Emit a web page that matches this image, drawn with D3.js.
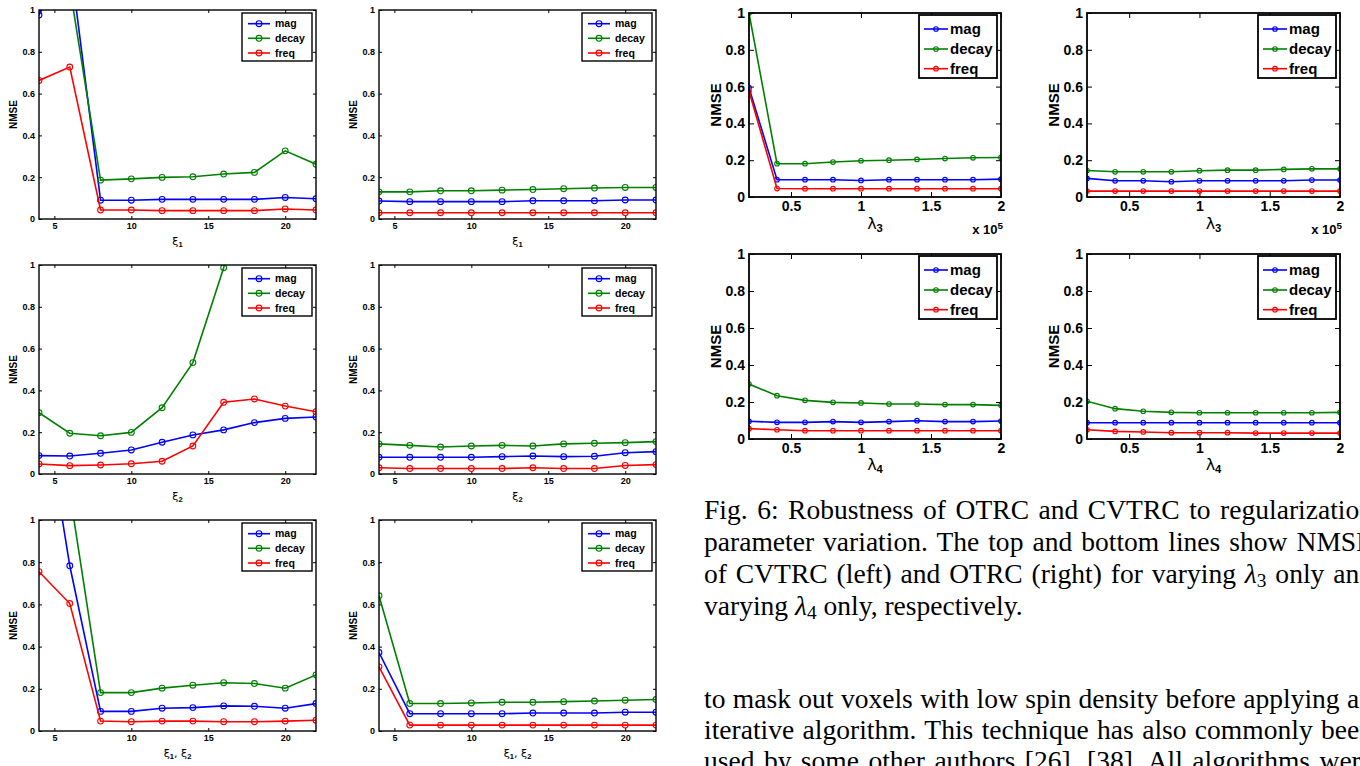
<!DOCTYPE html>
<html lang="en">
<head>
<meta charset="UTF-8" />
<title>NMSE robustness</title>
<style>
	body { margin: 0; background: #fff; }
</style>
</head>
<body>
<svg width="1360" height="766" id="svg" font-family="Liberation Sans, Arial, sans-serif"></svg>
<script src="https://cdn.jsdelivr.net/npm/d3@7/dist/d3.min.js"></script>
<script>
const xiSteps = [4, 6, 8, 10, 12, 14, 16, 18, 20, 22]
const lambdaSteps = [0.2, 0.4, 0.6, 0.8, 1.0, 1.2, 1.4, 1.6, 1.8, 2.0]
const seriesNames = ["mag", "decay", "freq"]
const yTicks = [0, 0.2, 0.4, 0.6, 0.8, 1]
const xiTicks = [5, 10, 15, 20]
const lambdaTicks = [0.5, 1, 1.5, 2]

// varying xi1
const xi1LeftMag = [0.976, 1.25, 0.09, 0.09, 0.094, 0.094, 0.094, 0.094, 0.103, 0.097]
const xi1LeftDecay = [1.5, 1.11, 0.186, 0.192, 0.199, 0.202, 0.215, 0.223, 0.326, 0.262]
const xi1LeftFreq = [0.663, 0.727, 0.043, 0.043, 0.04, 0.04, 0.04, 0.04, 0.048, 0.043]
const xi1RightMag = [0.086, 0.083, 0.083, 0.083, 0.083, 0.087, 0.087, 0.087, 0.091, 0.091]
const xi1RightDecay = [0.13, 0.13, 0.135, 0.135, 0.138, 0.141, 0.145, 0.148, 0.151, 0.151]
const xi1RightFreq = [0.03, 0.03, 0.03, 0.03, 0.03, 0.03, 0.03, 0.03, 0.03, 0.03]

// varying xi2
const xi2LeftMag = [0.088, 0.086, 0.099, 0.115, 0.152, 0.187, 0.211, 0.246, 0.266, 0.273]
const xi2LeftDecay = [0.293, 0.195, 0.183, 0.199, 0.317, 0.533, 0.987, 1.6, 2.1, 2.5]
const xi2LeftFreq = [0.048, 0.04, 0.043, 0.049, 0.061, 0.134, 0.343, 0.359, 0.325, 0.298]
const xi2RightMag = [0.08, 0.08, 0.08, 0.08, 0.083, 0.086, 0.083, 0.085, 0.102, 0.107]
const xi2RightDecay = [0.144, 0.137, 0.129, 0.134, 0.137, 0.134, 0.144, 0.147, 0.15, 0.155]
const xi2RightFreq = [0.03, 0.026, 0.026, 0.026, 0.026, 0.03, 0.026, 0.026, 0.041, 0.045]

// varying xi1 and xi2 together
const bothLeftMag = [1.69, 0.783, 0.093, 0.093, 0.108, 0.111, 0.119, 0.117, 0.108, 0.13]
const bothLeftDecay = [2.2, 1.13, 0.182, 0.182, 0.203, 0.217, 0.229, 0.225, 0.203, 0.266]
const bothLeftFreq = [0.755, 0.604, 0.047, 0.044, 0.047, 0.047, 0.044, 0.044, 0.047, 0.051]
const bothRightMag = [0.372, 0.082, 0.082, 0.082, 0.082, 0.085, 0.085, 0.085, 0.089, 0.089]
const bothRightDecay = [0.641, 0.13, 0.13, 0.133, 0.136, 0.136, 0.139, 0.142, 0.146, 0.149]
const bothRightFreq = [0.304, 0.028, 0.028, 0.028, 0.028, 0.028, 0.028, 0.028, 0.028, 0.028]

// lambda3 (x 1e5): CVTRC / OTRC
const lam3CvMag = [0.594, 0.094, 0.094, 0.094, 0.09, 0.094, 0.094, 0.094, 0.094, 0.097]
const lam3CvDecay = [1.0, 0.181, 0.181, 0.19, 0.197, 0.2, 0.204, 0.209, 0.213, 0.215]
const lam3CvFreq = [0.576, 0.046, 0.045, 0.045, 0.045, 0.045, 0.045, 0.045, 0.045, 0.045]
const lam3OtMag = [0.101, 0.088, 0.088, 0.083, 0.088, 0.088, 0.088, 0.088, 0.092, 0.092]
const lam3OtDecay = [0.144, 0.137, 0.137, 0.137, 0.143, 0.146, 0.146, 0.15, 0.153, 0.153]
const lam3OtFreq = [0.032, 0.032, 0.032, 0.032, 0.032, 0.032, 0.032, 0.032, 0.032, 0.032]

// lambda4: CVTRC / OTRC
const lam4CvMag = [0.096, 0.09, 0.09, 0.094, 0.09, 0.094, 0.099, 0.094, 0.094, 0.097]
const lam4CvDecay = [0.297, 0.234, 0.209, 0.198, 0.195, 0.189, 0.189, 0.186, 0.186, 0.182]
const lam4CvFreq = [0.056, 0.05, 0.045, 0.045, 0.045, 0.045, 0.045, 0.045, 0.045, 0.045]
const lam4OtMag = [0.088, 0.088, 0.088, 0.088, 0.088, 0.088, 0.088, 0.088, 0.088, 0.088]
const lam4OtDecay = [0.204, 0.164, 0.15, 0.144, 0.142, 0.142, 0.142, 0.142, 0.142, 0.144]
const lam4OtFreq = [0.05, 0.041, 0.038, 0.034, 0.034, 0.034, 0.032, 0.032, 0.032, 0.032]

const captionLines = [
	["Fig. 6: Robustness of OTRC and CVTRC to regularization", true],
	["parameter variation. The top and bottom lines show NMSE", true],
	["of CVTRC (left) and OTRC (right) for varying λ|3| only and", true],
	["varying λ|4| only, respectively.", false],
]
const bodyLines = [
	"to mask out voxels with low spin density before applying an",
	"iterative algorithm. This technique has also commonly been",
	"used by some other authors [26], [38]. All algorithms were",
]

const svg = d3.select("#svg")
const colors = ["#0000ff", "#008000", "#ff0000"]

const small = { tick: 9, tickLen: 3, pad: 4, legendFont: 10.5, labelFont: 10, stroke: 1.6, r: 2.9, box: 1.4,
	legend: { w: 70, h: 48, dx: 4, dy: 3, rows: [10.7, 25.3, 40], l0: 6, l1: 28, tx: 33 } }
const big = { tick: 14, tickLen: 5, pad: 4, legendFont: 15, labelFont: 15, stroke: 1.6, r: 2.3, box: 1.8,
	legend: { w: 78, h: 63, dx: 4, dy: 2, rows: [14, 34, 53.7], l0: 5, l1: 29, tx: 31 } }

const panels = [
	{ l: 39, r: 316, t: 10, b: 219, xs: xiSteps, ticks: xiTicks, data: [xi1LeftMag, xi1LeftDecay, xi1LeftFreq], lab: ["ξ", "1"], st: small, ylx: 13, xly: 245 },
	{ l: 379, r: 656, t: 10, b: 219, xs: xiSteps, ticks: xiTicks, data: [xi1RightMag, xi1RightDecay, xi1RightFreq], lab: ["ξ", "1"], st: small, ylx: 353, xly: 245 },
	{ l: 39, r: 316, t: 265, b: 474, xs: xiSteps, ticks: xiTicks, data: [xi2LeftMag, xi2LeftDecay, xi2LeftFreq], lab: ["ξ", "2"], st: small, ylx: 13, xly: 500 },
	{ l: 379, r: 656, t: 265, b: 474, xs: xiSteps, ticks: xiTicks, data: [xi2RightMag, xi2RightDecay, xi2RightFreq], lab: ["ξ", "2"], st: small, ylx: 353, xly: 500 },
	{ l: 39, r: 316, t: 520, b: 731, xs: xiSteps, ticks: xiTicks, data: [bothLeftMag, bothLeftDecay, bothLeftFreq], lab: ["ξ", "1", ", ξ", "2"], st: small, ylx: 13, xly: 757 },
	{ l: 379, r: 656, t: 520, b: 731, xs: xiSteps, ticks: xiTicks, data: [bothRightMag, bothRightDecay, bothRightFreq], lab: ["ξ", "1", ", ξ", "2"], st: small, ylx: 353, xly: 757 },
	{ l: 749, r: 1001, t: 13, b: 197, xs: lambdaSteps, ticks: lambdaTicks, data: [lam3CvMag, lam3CvDecay, lam3CvFreq], lab: ["λ", "3"], st: big, ylx: 716, xly: 229, exp: true },
	{ l: 1087, r: 1340, t: 13, b: 197, xs: lambdaSteps, ticks: lambdaTicks, data: [lam3OtMag, lam3OtDecay, lam3OtFreq], lab: ["λ", "3"], st: big, ylx: 1054, xly: 229, exp: true },
	{ l: 749, r: 1001, t: 254, b: 439, xs: lambdaSteps, ticks: lambdaTicks, data: [lam4CvMag, lam4CvDecay, lam4CvFreq], lab: ["λ", "4"], st: big, ylx: 716, xly: 470 },
	{ l: 1087, r: 1340, t: 254, b: 439, xs: lambdaSteps, ticks: lambdaTicks, data: [lam4OtMag, lam4OtDecay, lam4OtFreq], lab: ["λ", "4"], st: big, ylx: 1054, xly: 470 },
]

panels.forEach((p, pi) => {
	const st = p.st
	const x = d3.scaleLinear().domain(d3.extent(p.xs)).range([p.l, p.r])
	const y = d3.scaleLinear().domain([0, 1]).range([p.b, p.t])
	const g = svg.append("g")

	const clipId = "clip" + pi
	g.append("clipPath").attr("id", clipId)
		.append("rect").attr("x", p.l).attr("y", p.t).attr("width", p.r - p.l).attr("height", p.b - p.t)

	const fmt = (d) => String(d)
	const axisStyle = (sel) => {
		sel.select(".domain").remove()
		sel.selectAll("line").attr("stroke", "#000").attr("stroke-width", 1)
		sel.selectAll("text").attr("font-size", st.tick).attr("font-weight", "bold")
			.attr("fill", "#000").attr("font-family", "Liberation Sans, Arial, sans-serif")
	}
	g.append("g").attr("transform", `translate(0,${p.b})`)
		.call(d3.axisBottom(x).tickValues(p.ticks).tickFormat(fmt).tickSize(-st.tickLen).tickPadding(st.pad))
		.call(axisStyle)
	g.append("g").attr("transform", `translate(0,${p.t})`)
		.call(d3.axisTop(x).tickValues(p.ticks).tickFormat("").tickSize(-st.tickLen))
		.call(axisStyle)
	g.append("g").attr("transform", `translate(${p.l},0)`)
		.call(d3.axisLeft(y).tickValues(yTicks).tickFormat(fmt).tickSize(-st.tickLen).tickPadding(st.pad))
		.call(axisStyle)
	g.append("g").attr("transform", `translate(${p.r},0)`)
		.call(d3.axisRight(y).tickValues(yTicks).tickFormat("").tickSize(-st.tickLen))
		.call(axisStyle)

	const plot = g.append("g").attr("clip-path", `url(#${clipId})`)
	const line = d3.line().x((d) => x(d[0])).y((d) => y(d[1]))
	p.data.forEach((vals, si) => {
		const pts = p.xs.map((xv, i) => [xv, vals[i]])
		plot.append("path").attr("d", line(pts)).attr("fill", "none")
			.attr("stroke", colors[si]).attr("stroke-width", st.stroke)
		plot.selectAll(null).data(pts).join("circle")
			.attr("cx", (d) => x(d[0])).attr("cy", (d) => y(d[1])).attr("r", st.r)
			.attr("fill", "none").attr("stroke", colors[si]).attr("stroke-width", 1.1)
	})

	g.append("rect").attr("x", p.l).attr("y", p.t).attr("width", p.r - p.l).attr("height", p.b - p.t)
		.attr("fill", "none").attr("stroke", "#000").attr("stroke-width", st.box)

	// legend
	const lg = st.legend
	const lx = p.r - lg.dx - lg.w
	const ly = p.t + lg.dy
	g.append("rect").attr("x", lx).attr("y", ly).attr("width", lg.w).attr("height", lg.h)
		.attr("fill", "#fff").attr("stroke", "#000").attr("stroke-width", st.box)
	seriesNames.forEach((name, si) => {
		const yy = ly + lg.rows[si]
		g.append("line").attr("x1", lx + lg.l0).attr("x2", lx + lg.l1).attr("y1", yy).attr("y2", yy)
			.attr("stroke", colors[si]).attr("stroke-width", st.stroke)
		g.append("circle").attr("cx", lx + (lg.l0 + lg.l1) / 2).attr("cy", yy).attr("r", st.r)
			.attr("fill", "none").attr("stroke", colors[si]).attr("stroke-width", 1.1)
		g.append("text").attr("x", lx + lg.tx).attr("y", yy).attr("dy", "0.35em")
			.attr("font-size", st.legendFont).attr("font-weight", "bold").text(name)
	})

	// y label
	g.append("text").attr("transform", `translate(${p.ylx},${(p.t + p.b) / 2}) rotate(-90)`)
		.attr("text-anchor", "middle").attr("dy", "0.35em")
		.attr("font-size", st.labelFont).attr("font-weight", "bold").text("NMSE")

	// x label with subscripts
	const xl = g.append("text").attr("x", (p.l + p.r) / 2).attr("y", p.xly)
		.attr("text-anchor", "middle").attr("font-size", st.labelFont + 1)
	p.lab.forEach((part, i) => {
		if (i % 2 === 0) {
			xl.append("tspan").attr("font-family", "DejaVu Sans, sans-serif").attr("font-weight", "normal").text(part)
		} else {
			xl.append("tspan").attr("font-size", st.labelFont * 0.75).attr("font-weight", "bold")
				.attr("baseline-shift", "-25%").text(part)
		}
	})

	if (p.exp) {
		const ex = g.append("text").attr("x", p.r + 2).attr("y", p.b + 37).attr("text-anchor", "end")
			.attr("font-size", st.tick - 1).attr("font-weight", "bold")
		ex.append("tspan").text("x 10")
		ex.append("tspan").attr("font-size", st.tick * 0.7).attr("baseline-shift", "55%").text("5")
	}
})

// caption and body text, justified to the column width
const serif = "Liberation Serif, Times New Roman, serif"
const colLeft = 704
const colRight = 1373
const stretch = 1.02

function writeLine(str, baseline, justify) {
	const t = svg.append("text").attr("x", 0).attr("y", 0)
		.attr("transform", `translate(${colLeft},${baseline}) scale(${stretch},1)`)
		.attr("font-family", serif).attr("font-size", 27).attr("fill", "#000")
	str.split("|").forEach((part, i) => {
		if (i % 2 === 1) {
			t.append("tspan").attr("font-size", 19).attr("baseline-shift", "-20%").text(part)
		} else {
			const sub = part.split("λ")
			sub.forEach((s, k) => {
				if (k > 0) t.append("tspan").attr("font-style", "italic").text("λ")
				if (s) t.append("tspan").text(s)
			})
		}
	})
	if (justify) {
		const natural = t.node().getComputedTextLength()
		const spaces = str.split(" ").length - 1
		t.attr("word-spacing", ((colRight - colLeft) / stretch - natural) / spaces)
	}
}

captionLines.forEach((d, i) => writeLine(d[0], 519 + i * 32, d[1]))
bodyLines.forEach((d, i) => writeLine(d, 708 + i * 31, true))
</script>
</body>
</html>
